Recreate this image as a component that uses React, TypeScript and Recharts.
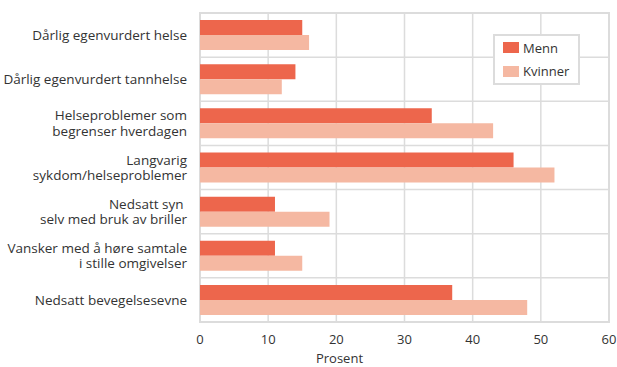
import React from 'react';
import {
  Bar,
  BarChart,
  CartesianGrid,
  Legend,
  ReferenceArea,
  XAxis,
  YAxis,
} from 'recharts';

// ----------------------
// DATA
// ----------------------
const categories = [
  'Dårlig egenvurdert helse',
  'Dårlig egenvurdert tannhelse',
  'Helseproblemer som\nbegrenser hverdagen',
  'Langvarig\nsykdom/helseproblemer',
  'Nedsatt syn \nselv med bruk av briller',
  'Vansker med å høre samtale\ni stille omgivelser',
  'Nedsatt bevegelsesevne',
];
const menn = [15, 14, 34, 46, 11, 11, 37];
const kvinner = [16, 12, 43, 52, 19, 15, 48];
const xTicks = [0, 10, 20, 30, 40, 50, 60];

const data = categories.map((name, i) => ({ name, Menn: menn[i], Kvinner: kvinner[i] }));

const MENN_COLOR = '#ed664c';
const KVINNER_COLOR = '#f5b8a2';
const GRID = '#dcdcdc';
const TEXT = '#333';
const FONT = '"Open Sans", sans-serif';

// ----------------------
// Y TICK (multi-line)
// ----------------------
const CategoryTick = ({ y, payload }: any) => {
  const lines = String(payload.value).split('\n');
  const lh = 15.5;
  const tx = 187;
  return (
    <text x={tx} y={y} textAnchor="end" fill={TEXT} fontSize={13.5} fontFamily={FONT} style={{ whiteSpace: 'pre' }}>
      {lines.map((l, i) => (
        <tspan key={i} x={tx} dy={i === 0 ? -((lines.length - 1) * lh) / 2 + 4.8 : lh}>
          {l}
        </tspan>
      ))}
    </text>
  );
};

// ----------------------
// LEGEND
// ----------------------
const LegendBox = () => (
  <div
    style={{
      border: `2px solid ${GRID}`,
      background: '#fff',
      padding: '0 8px',
      fontFamily: FONT,
      fontSize: 13,
      color: TEXT,
      width: 67,
      boxSizing: 'content-box',
    }}
  >
    {[
      { label: 'Menn', color: MENN_COLOR },
      { label: 'Kvinner', color: KVINNER_COLOR },
    ].map((it) => (
      <div key={it.label} style={{ display: 'flex', alignItems: 'center', height: 23.5 }}>
        <span style={{ display: 'inline-block', width: 16, height: 11, background: it.color, marginRight: 4 }} />
        {it.label}
      </div>
    ))}
  </div>
);

export default function App() {
  return (
    <div style={{ position: 'absolute', left: 0, top: 0, background: '#fff' }}>
      <BarChart
        width={617}
        height={367}
        data={data}
        layout="vertical"
        margin={{ top: 13, right: 8, left: 0, bottom: 15 }}
        barCategoryGap="16%"
        barGap={0}
      >
        <CartesianGrid
          stroke={GRID}
          strokeWidth={1.5}
          horizontalCoordinatesGenerator={({ offset }: any) =>
            categories.slice(1).map((_, i) => offset.top + ((i + 1) * offset.height) / categories.length)
          }
        />
        <XAxis
          type="number"
          domain={[0, 60]}
          ticks={xTicks}
          axisLine={false}
          tickLine={false}
          tickSize={5}
          tickMargin={8}
          height={30}
          tick={{ fill: TEXT, fontSize: 13, fontFamily: FONT }}
          label={{ value: 'Prosent', position: 'insideBottom', offset: -11, dx: -65, fill: TEXT, fontSize: 13, fontFamily: FONT }}
        />
        <YAxis
          type="category"
          dataKey="name"
          width={200}
          axisLine={false}
          tickLine={false}
          interval={0}
          tick={<CategoryTick />}
        />
        <Legend
          layout="horizontal"
          verticalAlign="middle"
          content={<LegendBox />}
          wrapperStyle={{ top: 34, left: 493, width: 'auto', height: 'auto' }}
        />
        <Bar dataKey="Menn" fill={MENN_COLOR} isAnimationActive={false} />
        <Bar dataKey="Kvinner" fill={KVINNER_COLOR} isAnimationActive={false} />
        <ReferenceArea x1={0} x2={60} fill="none" stroke={GRID} strokeWidth={2} ifOverflow="visible" />
      </BarChart>
    </div>
  );
}
